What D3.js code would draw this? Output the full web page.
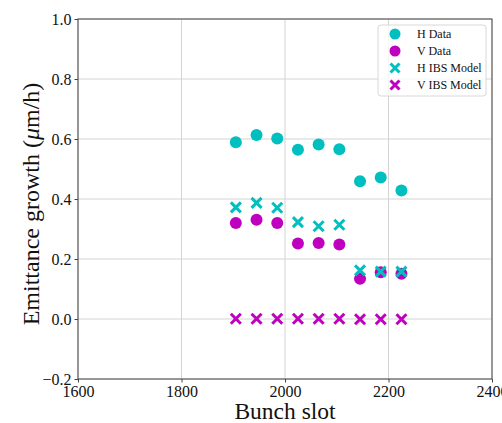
<!DOCTYPE html>
<html><head><meta charset="utf-8">
<script src="https://cdn.jsdelivr.net/npm/d3@7"></script>
<style>body{margin:0;background:#fff}svg{display:block}text{font-family:"Liberation Serif","DejaVu Serif",serif}</style>
</head><body><svg id="c" width="502" height="423"></svg>
<script>
const bunchSlots = [1905, 1945, 1985, 2025, 2065, 2105, 2145, 2185, 2225];
const hData = [0.589, 0.613, 0.602, 0.564, 0.582, 0.566, 0.459, 0.472, 0.428];
const vData = [0.320, 0.331, 0.320, 0.252, 0.253, 0.248, 0.134, 0.156, 0.151];
const hIBS = [0.372, 0.387, 0.371, 0.323, 0.309, 0.314, 0.162, 0.158, 0.158];
const vIBS = [0.001, 0.001, 0.001, 0.001, 0.001, 0.001, -0.001, -0.001, -0.001];
const xTicks = [1600, 1800, 2000, 2200, 2400];
const yTicks = [-0.2, 0.0, 0.2, 0.4, 0.6, 0.8, 1.0];
const seriesNames = ["H Data", "V Data", "H IBS Model", "V IBS Model"];

const cyan = "#00bfbf", mag = "#bf00bf";
const svg = d3.select("#c");
const L = 78, R = 492, T = 19, B = 379;
const x = d3.scaleLinear().domain([1600, 2400]).range([L, R]);
const y = d3.scaleLinear().domain([-0.2, 1.0]).range([B, T]);

// grid
svg.append("g").selectAll("line").data(xTicks).join("line")
  .attr("x1", d => x(d)).attr("x2", d => x(d)).attr("y1", T).attr("y2", B)
  .attr("stroke", "#d3d3d3").attr("stroke-width", 1);
svg.append("g").selectAll("line").data(yTicks).join("line")
  .attr("y1", d => y(d)).attr("y2", d => y(d)).attr("x1", L).attr("x2", R)
  .attr("stroke", "#d3d3d3").attr("stroke-width", 1);

// axes
const xAxis = d3.axisBottom(x).tickValues(xTicks).tickSize(3.5).tickPadding(3).tickFormat(d3.format("d"));
const yAxis = d3.axisLeft(y).tickValues(yTicks).tickSize(3.5).tickPadding(3).tickFormat(d => d < 0 ? "\u22120.2" : d3.format(".1f")(d));
const gx = svg.append("g").attr("transform", `translate(0,${B})`).call(xAxis);
const gy = svg.append("g").attr("transform", `translate(${L},0)`).call(yAxis);
[gx, gy].forEach(g => {
  g.select(".domain").remove();
  g.selectAll("line").attr("stroke", "#444");
  g.selectAll("text").attr("font-family", "Liberation Serif").attr("font-size", 16).attr("fill", "#111");
});
svg.append("rect").attr("x", L).attr("y", T).attr("width", R - L).attr("height", B - T)
  .attr("fill", "none").attr("stroke", "#444").attr("stroke-width", 1);

// markers
const plot = svg.append("g");
function circles(vals, color) {
  plot.append("g").selectAll("circle").data(vals).join("circle")
    .attr("cx", (d, i) => x(bunchSlots[i])).attr("cy", d => y(d)).attr("r", 6).attr("fill", color);
}
function crosses(vals, color) {
  const s = 5;
  plot.append("g").selectAll("path").data(vals).join("path")
    .attr("d", (d, i) => {
      const cx = x(bunchSlots[i]), cy = y(d);
      return `M${cx - s},${cy - s}L${cx + s},${cy + s}M${cx - s},${cy + s}L${cx + s},${cy - s}`;
    })
    .attr("stroke", color).attr("stroke-width", 3).attr("fill", "none");
}
circles(hData, cyan);
circles(vData, mag);
crosses(hIBS, cyan);
crosses(vIBS, mag);

// labels
svg.append("text").attr("x", (L + R) / 2).attr("y", 419).attr("text-anchor", "middle")
  .attr("font-size", 23.5).attr("fill", "#111").text("Bunch slot");
const yl = svg.append("text").attr("transform", `translate(39,${(T + B) / 2 + 5}) rotate(-90)`)
  .attr("text-anchor", "middle").attr("font-size", 24).attr("fill", "#111");
yl.append("tspan").text("Emittance growth (");
yl.append("tspan").attr("font-style", "italic").text("\u03bc");
yl.append("tspan").text("m/h)");

// legend
const lg = svg.append("g");
lg.append("rect").attr("x", 378).attr("y", 25).attr("width", 108).attr("height", 71).attr("rx", 3)
  .attr("fill", "#fff").attr("fill-opacity", 0.8).attr("stroke", "#d8d8d8");
const rowY = [34, 51, 68, 85];
seriesNames.forEach((name, i) => {
  const cy = rowY[i], cx = 395;
  const col = i % 2 === 0 ? cyan : mag;
  if (i < 2) lg.append("circle").attr("cx", cx).attr("cy", cy).attr("r", 5.5).attr("fill", col);
  else {
    const s = 4.5;
    lg.append("path").attr("d", `M${cx - s},${cy - s}L${cx + s},${cy + s}M${cx - s},${cy + s}L${cx + s},${cy - s}`)
      .attr("stroke", col).attr("stroke-width", 3);
  }
  lg.append("text").attr("x", 417).attr("y", cy + 4).attr("font-size", 12).attr("fill", "#111").text(name);
});
</script></body></html>
